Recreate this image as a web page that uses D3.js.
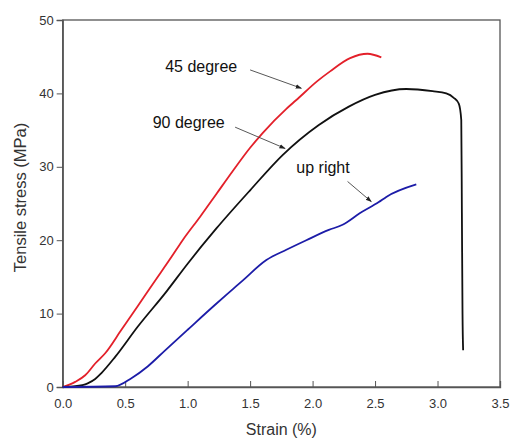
<!DOCTYPE html>
<html>
<head>
<meta charset="utf-8">
<script src="https://cdn.jsdelivr.net/npm/d3@7"></script>
<style>
  body { margin: 0; background: #fff; }
  text { font-family: "Liberation Sans", Arial, sans-serif; fill: #333; }
</style>
</head>
<body>
<script>

// strain (%) / stress (MPa)
var strain45 = [0, 0.1, 0.18, 0.26, 0.34, 0.47, 0.6, 0.72, 0.87, 0.96, 1.1, 1.23, 1.36, 1.5, 1.6, 1.79, 1.87, 2.04, 2.14, 2.3, 2.44, 2.55]
var stress45 = [0, 0.7, 1.6, 3.2, 4.6, 7.8, 11.0, 14.0, 17.7, 20.0, 23.2, 26.3, 29.4, 32.6, 34.6, 37.9, 39.1, 41.7, 43.0, 44.8, 45.4, 44.9]

var strain90 = [0, 0.1, 0.2, 0.26, 0.31, 0.42, 0.6, 0.83, 1.0, 1.23, 1.5, 1.76, 2.05, 2.29, 2.5, 2.75, 2.96, 3.07, 3.13, 3.17, 3.19, 3.195, 3.2, 3.205]
var stress90 = [0, 0.1, 0.5, 1.1, 1.9, 4.1, 8.2, 13.0, 16.8, 21.6, 26.8, 31.6, 35.7, 38.2, 39.8, 40.6, 40.3, 40.0, 39.4, 38.6, 36.4, 23.7, 10.0, 5.0]

var strainUp = [0, 0.42, 0.55, 0.68, 0.82, 1.0, 1.22, 1.36, 1.44, 1.63, 1.79, 1.95, 2.13, 2.24, 2.38, 2.53, 2.59, 2.83]
var stressUp = [0, 0.1, 1.2, 2.8, 5.0, 7.8, 11.2, 13.3, 14.5, 17.3, 18.7, 20.0, 21.4, 22.1, 23.7, 25.2, 25.9, 27.6]

var seriesNames = ["45 degree", "90 degree", "up right"]
var seriesColors = ["#e3202a", "#111111", "#1c1ca8"]

// label position and arrow start / tip, in data units
var labelAt = [[0.82, 42.9], [0.72, 35.3], [1.87, 29.2]]
var arrowFrom = [[1.5, 43.2], [1.38, 35.4], [2.28, 28.0]]
var arrowTo = [[1.91, 40.7], [1.78, 32.5], [2.47, 25.25]]

var xTicks = [0, 0.5, 1.0, 1.5, 2.0, 2.5, 3.0, 3.5]
var yTicks = [0, 10, 20, 30, 40, 50]

var W = 510, H = 438
var margin = {top: 20, right: 10, bottom: 51, left: 62.7}

var svg = d3.select("body").append("svg")
    .attr("width", W)
    .attr("height", H)

var x = d3.scaleLinear().domain([0, 3.5]).range([margin.left, W - margin.right])
var y = d3.scaleLinear().domain([0, 50]).range([H - margin.bottom, margin.top])

svg.append("defs").append("marker")
    .attr("id", "head")
    .attr("viewBox", "0 0 10 10")
    .attr("refX", 9).attr("refY", 5)
    .attr("markerWidth", 7).attr("markerHeight", 7)
    .attr("orient", "auto")
  .append("path")
    .attr("d", "M0,1.5 L10,5 L0,8.5 Z")
    .attr("fill", "#222")

// frame
svg.append("rect")
    .attr("x", x(0)).attr("y", y(50))
    .attr("width", x(3.5) - x(0)).attr("height", y(0) - y(50))
    .attr("fill", "none").attr("stroke", "#555").attr("stroke-width", 1.3)

// x axis, ticks inside
var xAx = svg.append("g").attr("transform", "translate(0," + y(0) + ")")
xAx.call(d3.axisBottom(x).tickValues(d3.range(0, 3.51, 0.25)).tickSize(-5).tickFormat(""))
xAx.call(d3.axisBottom(x).tickValues(xTicks).tickSize(-6).tickFormat(d3.format(".1f")))
xAx.selectAll("line").attr("stroke", "#555")
xAx.selectAll(".domain").attr("stroke", "#555").attr("stroke-width", 1.3)
xAx.selectAll("text").attr("y", 12).style("font-size", "13px").style("fill", "#333")

// y axis, ticks outside
var yAx = svg.append("g").attr("transform", "translate(" + x(0) + ",0)")
yAx.call(d3.axisLeft(y).tickValues(d3.range(0, 51, 5)).tickSize(4).tickFormat(""))
yAx.call(d3.axisLeft(y).tickValues(yTicks).tickSize(6).tickFormat(d3.format("d")))
yAx.selectAll("line").attr("stroke", "#555")
yAx.selectAll(".domain").attr("stroke", "#555").attr("stroke-width", 1.3)
yAx.selectAll("text").attr("x", -9).style("font-size", "13px").style("fill", "#333")

svg.append("text")
    .attr("x", (x(0) + x(3.5)) / 2).attr("y", 435)
    .attr("text-anchor", "middle")
    .style("font-size", "16px")
    .text("Strain (%)")

svg.append("text")
    .attr("transform", "translate(26," + ((y(0) + y(50)) / 2 - 6) + ") rotate(-90)")
    .attr("text-anchor", "middle")
    .style("font-size", "16.5px")
    .text("Tensile stress (MPa)")

var series = [
  {xs: strain45, ys: stress45},
  {xs: strain90, ys: stress90},
  {xs: strainUp, ys: stressUp}
]

var line = d3.line()
    .x(function(d) { return x(d[0]) })
    .y(function(d) { return y(d[1]) })
    .curve(d3.curveMonotoneX)

svg.selectAll(".curve")
    .data(series)
  .enter().append("path")
    .attr("class", "curve")
    .attr("d", function(d) { return line(d.xs.map(function(v, i) { return [v, d.ys[i]] })) })
    .attr("fill", "none")
    .attr("stroke", function(d, i) { return seriesColors[i] })
    .attr("stroke-width", 1.8)
    .attr("stroke-linejoin", "round")

svg.selectAll(".lbl")
    .data(seriesNames)
  .enter().append("text")
    .attr("class", "lbl")
    .attr("x", function(d, i) { return x(labelAt[i][0]) })
    .attr("y", function(d, i) { return y(labelAt[i][1]) })
    .style("font-size", "16px")
    .style("fill", "#111")
    .text(function(d) { return d })

svg.selectAll(".arrow")
    .data(seriesNames)
  .enter().append("line")
    .attr("class", "arrow")
    .attr("x1", function(d, i) { return x(arrowFrom[i][0]) })
    .attr("y1", function(d, i) { return y(arrowFrom[i][1]) })
    .attr("x2", function(d, i) { return x(arrowTo[i][0]) })
    .attr("y2", function(d, i) { return y(arrowTo[i][1]) })
    .attr("stroke", "#444")
    .attr("stroke-width", 0.9)
    .attr("marker-end", "url(#head)")

</script>
</body>
</html>
